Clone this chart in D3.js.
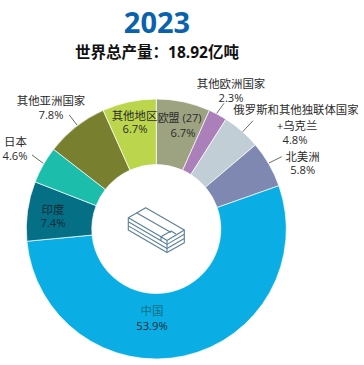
<!DOCTYPE html>
<html>
<head>
<meta charset="utf-8">
<script src="https://cdn.jsdelivr.net/npm/d3@7"></script>
<style>
  html, body { margin: 0; padding: 0; background: #fff; }
  text { font-family: "Open Sans", "Noto Sans CJK SC", sans-serif; }
</style>
</head>
<body>
<div id="chart"></div>
<script>
const regions = ["欧盟 (27)", "其他欧洲国家", "俄罗斯和其他独联体国家", "北美洲", "中国", "印度", "日本", "其他亚洲国家", "其他地区"];
const shares = [6.7, 2.3, 4.8, 5.8, 53.9, 7.4, 4.6, 7.8, 6.7];
const colors = ["#9da381", "#ab7fb9", "#c1ced6", "#7e88b1", "#0aaee4", "#056f85", "#1dbdab", "#788030", "#bbd64c"];

const width = 364, height = 365;
const cx = 156.3, cy = 229, outerR = 130, innerR = 64.5;

const svg = d3.select("#chart").append("svg")
  .attr("width", width)
  .attr("height", height);

// Titles
svg.append("text")
  .attr("x", 157).attr("y", 33)
  .attr("text-anchor", "middle")
  .attr("font-size", 29).attr("font-weight", 700)
  .attr("fill", "#0a62ad")
  .text("2023");

svg.append("text")
  .attr("x", 157).attr("y", 58)
  .attr("text-anchor", "middle")
  .attr("font-size", 15.5).attr("font-weight", 700)
  .attr("fill", "#111")
  .text("世界总产量：18.92亿吨");

// Donut
const pie = d3.pie().sort(null).value((d) => d.share);
const arc = d3.arc().innerRadius(innerR).outerRadius(outerR);
const slices = pie(regions.map((name, i) => ({ name, share: shares[i], color: colors[i] })));

svg.append("g")
  .attr("transform", `translate(${cx},${cy})`)
  .selectAll("path")
  .data(slices)
  .join("path")
  .attr("d", arc)
  .attr("fill", (d) => d.data.color)
  .attr("stroke", "#fff")
  .attr("stroke-width", 0.7);

// Label positions, one per region: each line of text with its own x and baseline
const labelLayout = [
  { lines: [["欧盟 (27)", 179.6, 122]], pct: [183, 137], size: 11 },
  { lines: [["其他欧洲国家", 231, 88]], pct: [231, 101.5] },
  { lines: [["俄罗斯和其他独联体国家", 296, 113.5], ["+乌克兰", 297, 130]], pct: [295, 143.5] },
  { lines: [["北美洲", 302.5, 160.5]], pct: [302.7, 174] },
  { lines: [["中国", 152, 315]], pct: [152, 329.5], fill: "#056f85", pctFill: "#0b2a33" },
  { lines: [["印度", 53, 213.5]], pct: [53, 227], fill: "#0b2a33", pctFill: "#0b2a33" },
  { lines: [["日本", 15.5, 146]], pct: [15, 159.5] },
  { lines: [["其他亚洲国家", 51, 105]], pct: [51, 119] },
  { lines: [["其他地区", 134.5, 119.5]], pct: [135, 133] },
];

const labels = svg.append("g").attr("fill", "#2b2b2b").attr("font-size", 11.4).attr("text-anchor", "middle");

slices.forEach((s, i) => {
  const l = labelLayout[i];
  l.lines.forEach(([line, x, y]) => {
    labels.append("text")
      .attr("x", x).attr("y", y)
      .attr("fill", l.fill || null)
      .attr("font-size", l.size || null)
      .text(line);
  });
  labels.append("text")
    .attr("x", l.pct[0]).attr("y", l.pct[1])
    .attr("fill", l.pctFill || null)
    .attr("font-size", 11.2)
    .text(`${d3.format(".1f")(s.data.share)}%`);
});

// Leader lines
const leaders = [
  [216.7, 113.3, 224, 103.3],
  [242.7, 131.7, 253, 120.7],
  [269, 163, 281.7, 156.7],
  [43.3, 163.3, 32, 155],
  [77, 125, 69.3, 115],
];
svg.append("g").selectAll("line")
  .data(leaders)
  .join("line")
  .attr("x1", (d) => d[0]).attr("y1", (d) => d[1])
  .attr("x2", (d) => d[2]).attr("y2", (d) => d[3])
  .attr("stroke", "#444").attr("stroke-width", 0.8);

// Steel stack icon
const iconPaths = [
  "M161 236.8 L128.3 217.7 L145.7 207.7 L184.3 230 L167 240.5",
  "M128.3 217.7 V230 L167 252.5 L184.3 242.8 V230",
  "M167 240.5 V252.5",
  "M128.3 221.8 L161 240.8 L167 244.4 L184.3 234.3",
  "M128.3 225.9 L167 248.5 L184.3 238.6",
  "M136.5 212.8 L171 232.6",
  "M161 236.8 L171 231 L176 234 M161 236.8 V240.8 M161 236.8 L167 240.5",
];
svg.append("g").selectAll("path")
  .data(iconPaths)
  .join("path")
  .attr("d", (d) => d)
  .attr("fill", "none")
  .attr("stroke", "#5b7f99")
  .attr("stroke-width", 1.1)
  .attr("stroke-linejoin", "round");
</script>
</body>
</html>
